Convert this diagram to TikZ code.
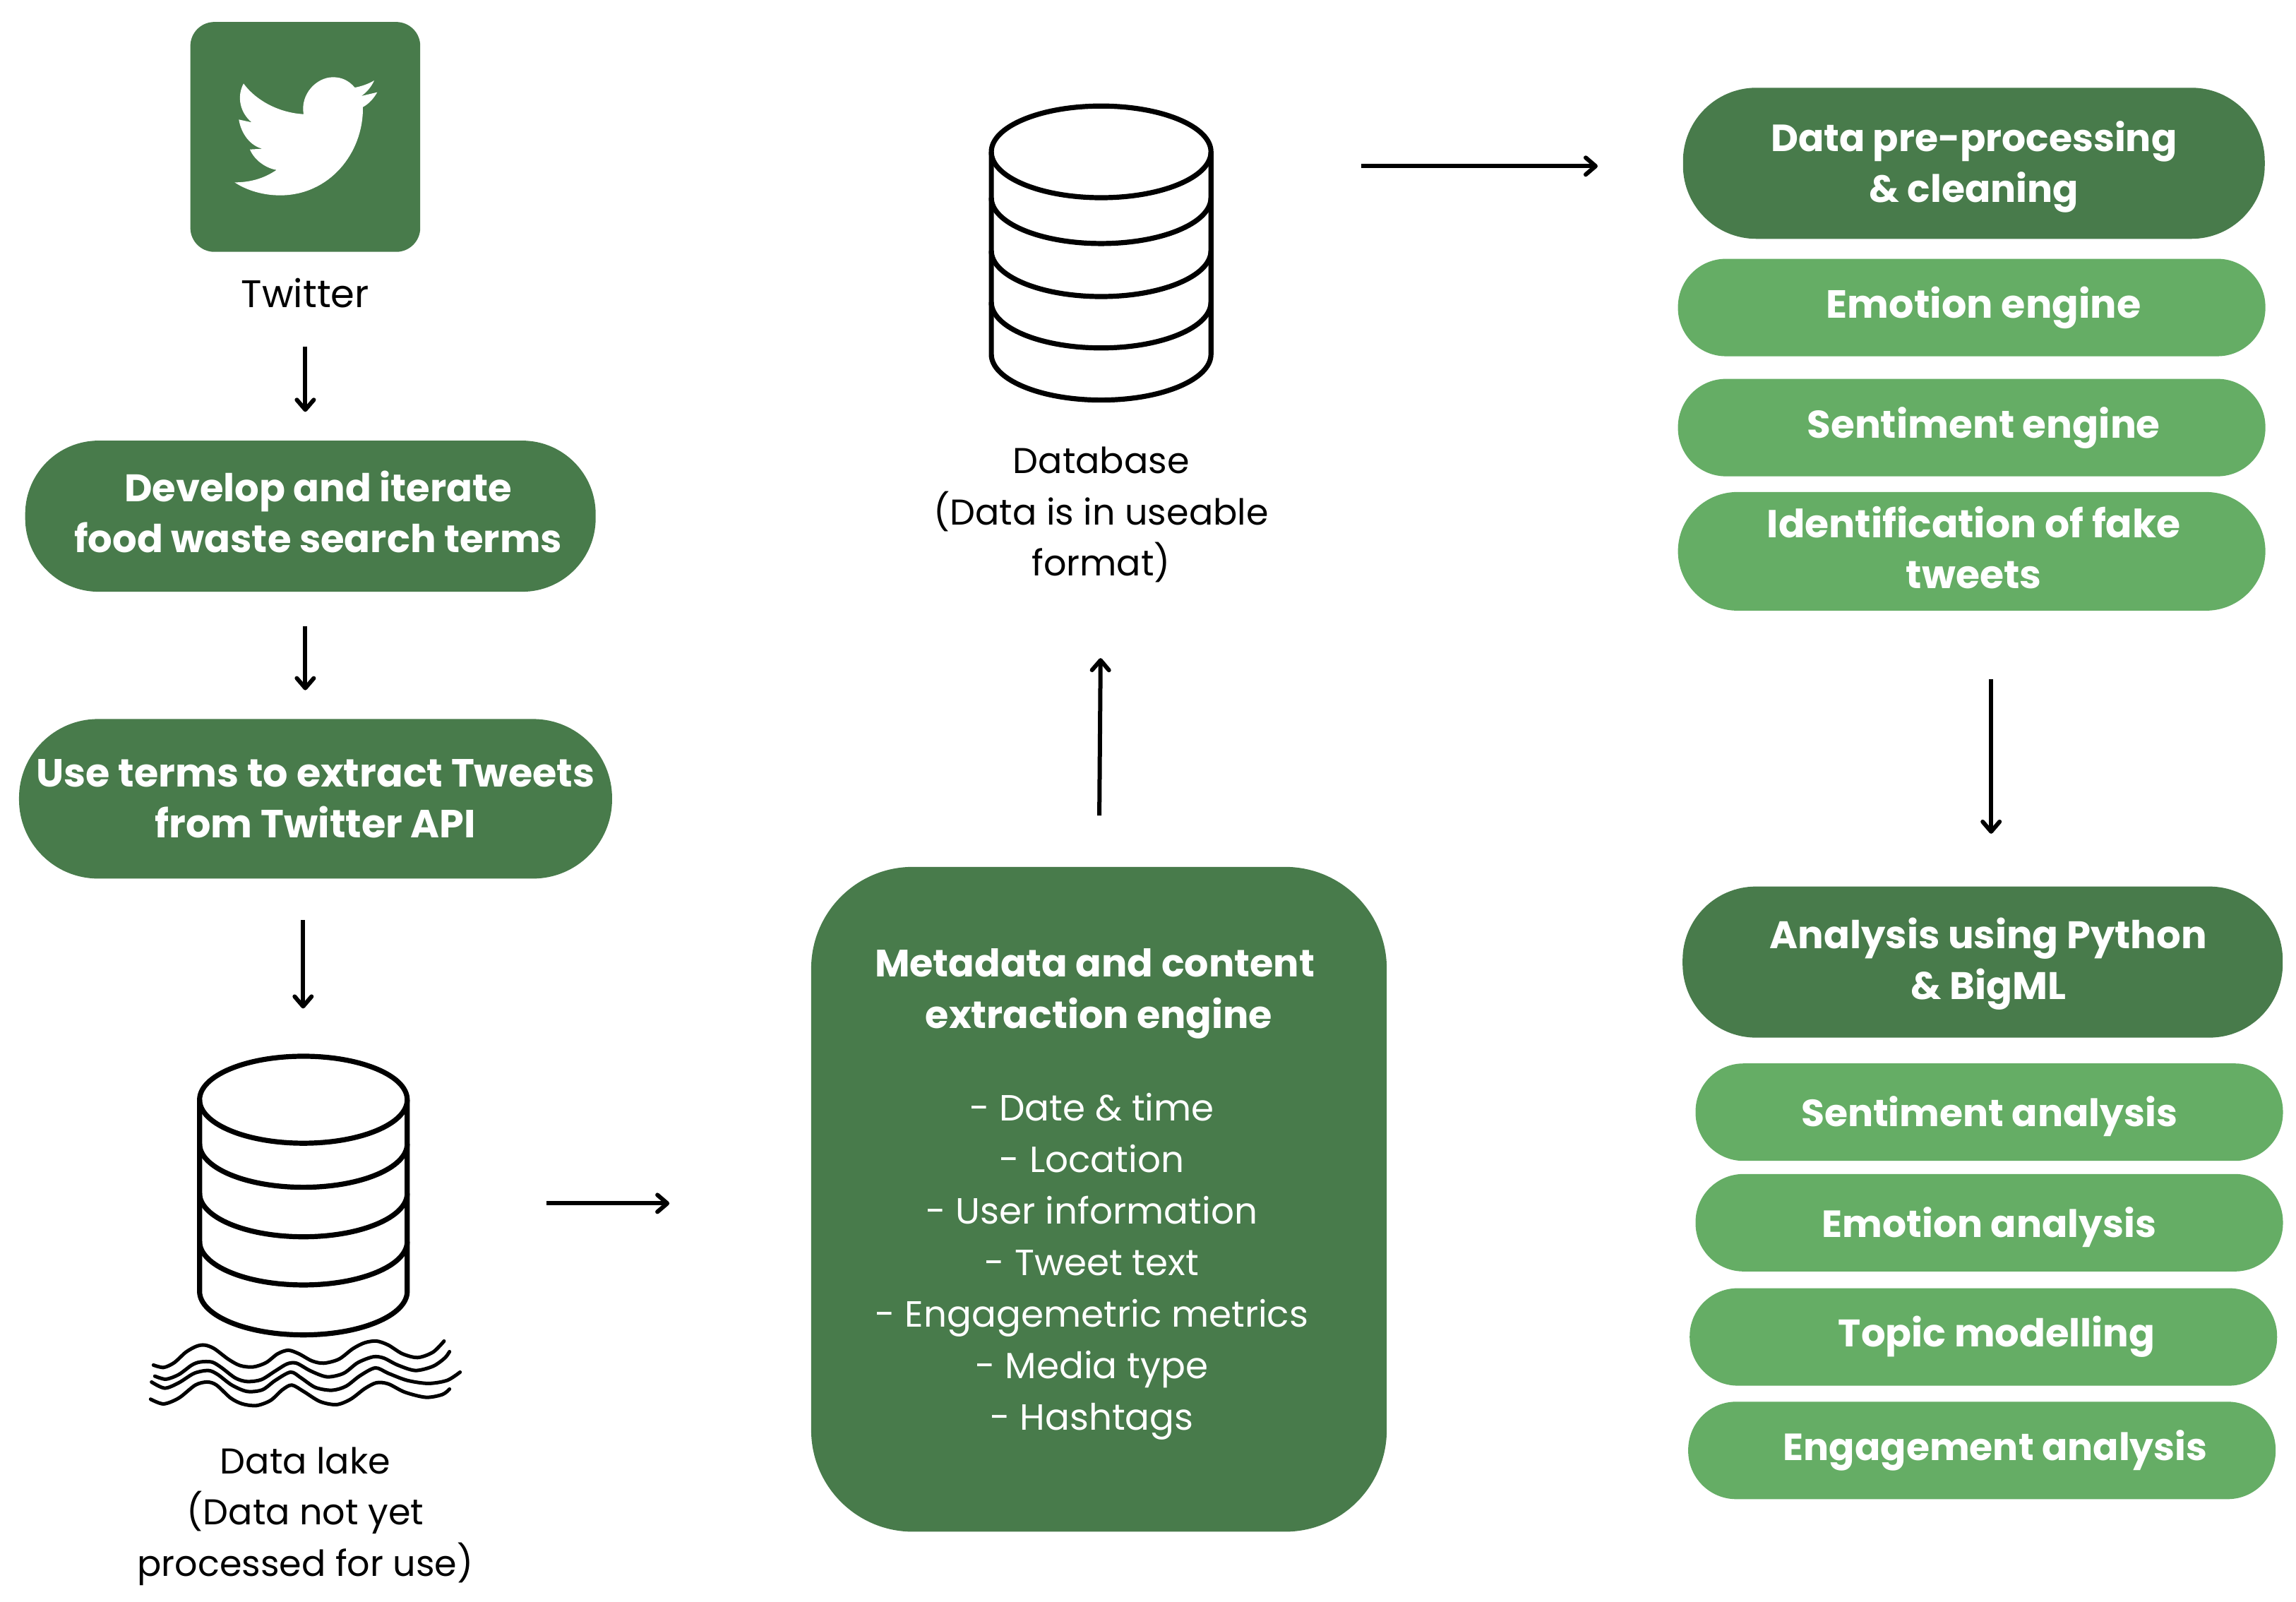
\documentclass[tikz,border=0pt]{standalone}
\usepackage{fontspec}
\setmainfont{Poppins}
\usetikzlibrary{arrows.meta}

\definecolor{darkleaf}{RGB}{72,123,75}
\definecolor{lightleaf}{RGB}{101,173,101}

\newcommand{\metahead}[1]{{\fontsize{13.5}{18}\selectfont\bfseries #1}}

\tikzset{
  fs/.style={font=\fontsize{#1}{18}\selectfont\bfseries},
  darkpill/.style={fill=darkleaf,text=white,rounded corners=26pt,minimum height=53.5pt,align=center,inner sep=0pt,fs=13.6},
  lightpill/.style={fill=lightleaf,text=white,rounded corners=17pt,minimum height=34.5pt,minimum width=208pt,align=center,inner sep=0pt,fs=13.6},
  caption/.style={align=center,inner sep=0pt,font=\fontsize{12.7}{18.2}\selectfont},
  drum/.style={inner sep=0pt,minimum width=78pt},
  drumline/.style={line width=1.8pt,line join=round},
  flow/.style={-{Straight Barb[length=3.5pt,width=6pt,round]},line width=1.5pt}
}

\begin{document}
\begin{tikzpicture}[x=0.5185pt,y=-0.5185pt]
\useasboundingbox (0,0) rectangle (1568,1093.6);

% twitter
\node[fill=darkleaf,rounded corners=8.5pt,minimum size=81.4pt,inner sep=0pt] (twitterbox) at (208.5,93.5) {};
\begin{scope}[shift={(96.43,0)},x=0.08333pt,y=-0.08333pt]
\fill[white] (690,485) .. controls (590,480) and (490,430) .. (435,355)
  .. controls (405,410) and (420,480) .. (470,520) -- (415,508)
  .. controls (425,570) and (465,620) .. (515,632) -- (462,635)
  .. controls (480,680) and (530,715) .. (575,722)
  .. controls (520,760) and (460,775) .. (397,775)
  .. controls (450,810) and (520,830) .. (590,830)
  .. controls (800,830) and (945,650) .. (942,455)
  .. controls (970,440) and (990,415) .. (1003,392) -- (935,408)
  .. controls (960,392) and (980,365) .. (990,342)
  .. controls (965,357) and (935,367) .. (908,372)
  .. controls (880,340) and (850,328) .. (815,328)
  .. controls (745,328) and (675,400) .. (690,485) -- cycle;
\end{scope}
\node[caption,font=\fontsize{13.6}{18.2}\selectfont] (twitterlabel) at (208.5,200) {Twitter};

% left column
\node[darkpill,minimum width=202pt] (develop) at (212,352.5) {\hspace*{5.5pt}Develop and iterate\\\hspace*{5.5pt}food waste search terms\rule[-3pt]{0pt}{0pt}};
\node[darkpill,fs=13.9,minimum width=210pt,minimum height=56.5pt,rounded corners=28pt] (useterms) at (215.5,545.5) {Use terms to extract Tweets\\from Twitter API};

% data lake
\node[drum,minimum height=99.6pt] (lakedrum) at (207,816) {};
\draw[drumline] (207.2,751) ellipse [x radius=70.9,y radius=29.7];
\foreach \y in {810.8,844.6,877.5}
\draw[drumline] (136.3,\y-29.7) arc [start angle=180,end angle=0,x radius=70.9,y radius=29.7];
\draw[drumline] (136.3,751) -- (136.3,881.9) arc [start angle=180,end angle=0,x radius=70.9,y radius=29.7] -- (278.1,751);
\begin{scope}[shift={(96.43,906.5)},x=0.08333pt,y=-0.08333pt,line width=1.25pt,line cap=round]
\draw plot[smooth] coordinates {(52,160)(95,170)(140,150)(190,105)(235,80)(270,75)(310,90)(370,135)(420,162)(475,168)(530,150)(580,112)(625,97)(670,112)(725,142)(775,152)(840,135)(900,90)(950,65)(1000,58)(1050,75)(1110,112)(1175,128)(1240,105)(1287,58)};
\draw plot[smooth] coordinates {(58,207)(105,220)(160,200)(215,160)(250,147)(300,147)(340,170)(400,215)(450,230)(510,222)(570,185)(620,155)(660,152)(720,185)(790,210)(860,195)(920,150)(985,125)(1030,130)(1090,160)(1165,183)(1240,165)(1290,130)(1310,103)};
\draw plot[smooth] coordinates {(44,232)(100,258)(160,235)(225,195)(285,183)(325,200)(385,245)(450,272)(515,265)(570,225)(635,190)(680,215)(740,255)(810,267)(870,250)(930,205)(995,172)(1050,195)(1130,225)(1220,238)(1300,225)(1355,190)};
\draw plot[smooth] coordinates {(40,305)(95,325)(160,300)(230,245)(280,232)(320,245)(380,300)(430,325)(490,332)(550,310)(600,265)(640,245)(690,272)(760,315)(830,328)(890,305)(950,260)(1000,235)(1050,240)(1120,275)(1210,297)(1280,285)(1310,262)};
\end{scope}
\node[caption] (lakelabel) at (208.5,1035.5) {Data lake\\(Data not yet\\processed for use)};

% metadata box
\node[fill=darkleaf,text=white,rounded corners=36pt,minimum width=203.8pt,minimum height=235.4pt,inner sep=0pt,align=center,font=\fontsize{12.9}{18.25}\selectfont] (metabox) at (750.5,819) {\hspace*{-3pt}\metahead{Metadata and content}\\
\metahead{extraction engine}\\[14.5pt]
\hspace*{-5pt}- Date \& time\\
\hspace*{-5pt}- Location\\
\hspace*{-5pt}- User information\\
\hspace*{-5pt}- Tweet text\\
\hspace*{-5pt}- Engagemetric metrics\\
\hspace*{-5pt}- Media type\\
\hspace*{-5pt}- Hashtags\rule[-7.3pt]{0pt}{0pt}};

% database
\node[drum,minimum height=105pt] (dbdrum) at (752,173) {};
\draw[drumline] (752,103.7) ellipse [x radius=75,y radius=31.3];
\foreach \y in {166.3,202.5,237.6}
\draw[drumline] (677,\y-31.3) arc [start angle=180,end angle=0,x radius=75,y radius=31.3];
\draw[drumline] (677,103.7) -- (677,241.9) arc [start angle=180,end angle=0,x radius=75,y radius=31.3] -- (827,103.7);
\node[caption] (dblabel) at (752,351.5) {Database\\(Data is in useable\\format)};

% right column
\node[darkpill,fs=13.4,minimum width=206pt] (cleaning) at (1348,111.5) {\rule{0pt}{13.2pt}Data pre-processing\\\& cleaning};
\node[lightpill,fs=13.9] (emotionengine) at (1346.5,210) {\hspace*{8.5pt}Emotion engine};
\node[lightpill,fs=13.7] (sentimentengine) at (1346.5,292) {\hspace*{8.5pt}Sentiment engine};
\node[lightpill,fs=13.8,minimum height=42pt,rounded corners=21pt] (fake) at (1346.5,376.5) {\hspace*{1.5pt}Identification of fake\\\hspace*{1.5pt}tweets\rule[-2.5pt]{0pt}{0pt}};

\node[darkpill,minimum width=212.5pt] (analysis) at (1354,657) {\rule{0pt}{12.2pt}\hspace*{4pt}Analysis using Python\\\hspace*{4pt}\& BigML};
\node[lightpill,fs=13.4] (sentimentanalysis) at (1358.5,759.5) {\rule{0pt}{13.8pt}Sentiment analysis};
\node[lightpill,fs=13.4] (emotionanalysis) at (1358.5,835) {\rule{0pt}{13.8pt}Emotion analysis};
\node[lightpill] (topic) at (1354.5,913) {\hspace*{9.5pt}Topic modelling};
\node[lightpill,fs=13.4] (engagement) at (1353.5,990.5) {\hspace*{9.5pt}Engagement analysis};

% connectors
\draw[flow,shorten <=13.5pt,shorten >=10pt] (twitterlabel.south) -- (twitterlabel.south |- develop.north);
\draw[flow,shorten <=12pt,shorten >=10pt] (develop.south -| twitterlabel) -- (useterms.north -| twitterlabel);
\draw[flow,shorten <=14.5pt,shorten >=16pt] (useterms.south -| lakedrum) -- (lakedrum.north);
\draw[flow,shorten <=47pt,shorten >=50pt] ([yshift=-3pt]lakedrum.east) -- ([yshift=-3pt]lakedrum.east -| metabox.west);
\draw[flow,shorten <=18pt,shorten >=26.5pt] (metabox.north) -- (dblabel.south);
\draw[flow,shorten <=53pt,shorten >=30pt] ([yshift=-1pt]cleaning.west -| dbdrum.east) -- ([yshift=-1pt]cleaning.west);
\draw[flow,shorten <=24pt,shorten >=18.5pt] ([xshift=3pt]analysis.north |- fake.south) -- ([xshift=3pt]analysis.north);
\end{tikzpicture}
\end{document}
